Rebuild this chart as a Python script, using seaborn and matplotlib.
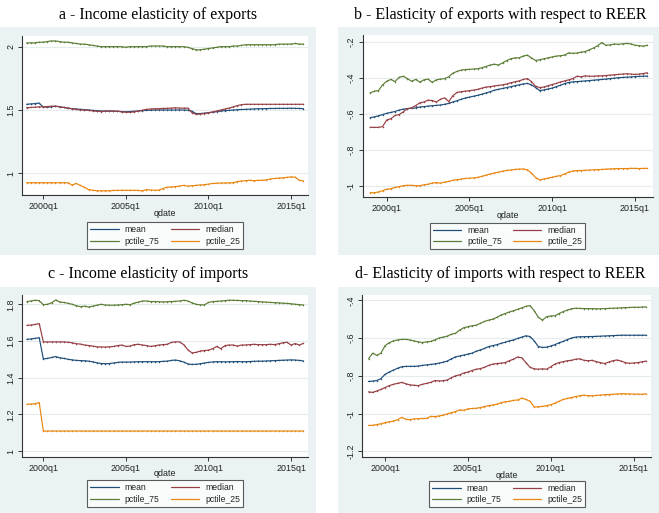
import numpy as np
import pandas as pd
import matplotlib
matplotlib.use("Agg")
import matplotlib.pyplot as plt
import seaborn as sns
from matplotlib.patches import Rectangle
from matplotlib.lines import Line2D

sns.set_theme(style="white")
plt.rcParams["font.family"] = ["Liberation Sans", "DejaVu Sans"]

# ---------------- data ----------------
quarters = pd.period_range("1999Q1", "2015Q4", freq="Q")
series_names = ["mean", "median", "pctile_75", "pctile_25"]
x_tick_labels = ["2000q1", "2005q1", "2010q1", "2015q1"]

# a - Income elasticity of exports
a_mean = [1.545, 1.548, 1.55, 1.555, 1.525, 1.522, 1.525, 1.53, 1.525, 1.52, 1.515, 1.51, 1.508, 1.505, 1.503, 1.5, 1.497,
          1.495, 1.492, 1.492, 1.492, 1.49, 1.49, 1.488, 1.486, 1.488, 1.49, 1.492, 1.495, 1.497, 1.498, 1.5, 1.5, 1.5,
          1.5, 1.5, 1.5, 1.5, 1.5, 1.498, 1.49, 1.472, 1.472, 1.475, 1.478, 1.482, 1.487, 1.492, 1.495, 1.497, 1.5,
          1.502, 1.504, 1.505, 1.507, 1.508, 1.51, 1.51, 1.511, 1.512, 1.512, 1.513, 1.513, 1.513, 1.514, 1.513, 1.512, 1.51]
a_median = [1.518, 1.52, 1.522, 1.525, 1.525, 1.527, 1.53, 1.53, 1.525, 1.52, 1.515, 1.51, 1.505, 1.5, 1.5, 1.497, 1.493,
            1.49, 1.488, 1.49, 1.492, 1.492, 1.49, 1.485, 1.483, 1.482, 1.485, 1.492, 1.498, 1.505, 1.508, 1.51, 1.51,
            1.512, 1.513, 1.515, 1.518, 1.515, 1.515, 1.515, 1.48, 1.466, 1.468, 1.472, 1.478, 1.485, 1.492, 1.5, 1.508,
            1.515, 1.525, 1.535, 1.542, 1.545, 1.545, 1.545, 1.545, 1.545, 1.545, 1.545, 1.545, 1.545, 1.545, 1.545,
            1.545, 1.545, 1.545, 1.545]
a_p75 = [2.03, 2.03, 2.03, 2.035, 2.035, 2.04, 2.045, 2.045, 2.04, 2.035, 2.035, 2.03, 2.025, 2.02, 2.02, 2.015, 2.01,
         2.005, 2.0, 2.0, 2.0, 2.0, 2.0, 2.0, 1.995, 2.0, 2.0, 2.0, 2.0, 2.0, 2.005, 2.005, 2.005, 2.005, 2.0, 2.0, 2.0,
         2.0, 2.0, 1.995, 1.985, 1.975, 1.975, 1.98, 1.985, 1.99, 1.995, 2.0, 2.0, 2.0, 2.005, 2.005, 2.01, 2.015, 2.015,
         2.015, 2.015, 2.015, 2.015, 2.015, 2.015, 2.02, 2.02, 2.02, 2.02, 2.025, 2.02, 2.02]
a_p25 = [0.926, 0.926, 0.926, 0.926, 0.926, 0.926, 0.926, 0.926, 0.926, 0.926, 0.926, 0.908, 0.92, 0.905, 0.89, 0.872,
         0.866, 0.863, 0.862, 0.863, 0.862, 0.865, 0.866, 0.866, 0.866, 0.866, 0.866, 0.865, 0.862, 0.872, 0.868, 0.866,
         0.868, 0.88, 0.89, 0.893, 0.895, 0.9, 0.905, 0.9, 0.902, 0.905, 0.908, 0.91, 0.915, 0.92, 0.922, 0.924, 0.924,
         0.925, 0.926, 0.935, 0.94, 0.942, 0.945, 0.942, 0.945, 0.945, 0.948, 0.955, 0.96, 0.962, 0.965, 0.968, 0.972,
         0.97, 0.945, 0.94]

# b - Elasticity of exports with respect to REER
b_mean = [-0.622, -0.618, -0.612, -0.605, -0.598, -0.593, -0.588, -0.58, -0.575, -0.572, -0.57, -0.568, -0.563, -0.561,
          -0.558, -0.556, -0.554, -0.552, -0.548, -0.543, -0.535, -0.528, -0.52, -0.513, -0.508, -0.503, -0.498, -0.492,
          -0.485, -0.478, -0.47, -0.465, -0.46, -0.455, -0.45, -0.445, -0.44, -0.435, -0.432, -0.44, -0.455, -0.472,
          -0.468, -0.463, -0.458, -0.45, -0.442, -0.433, -0.427, -0.423, -0.422, -0.42, -0.418, -0.416, -0.414, -0.412,
          -0.41, -0.408, -0.405, -0.403, -0.4, -0.399, -0.397, -0.396, -0.394, -0.393, -0.392, -0.391]
b_median = [-0.676, -0.676, -0.676, -0.672, -0.635, -0.628, -0.61, -0.605, -0.59, -0.572, -0.568, -0.555, -0.54, -0.535,
            -0.525, -0.527, -0.535, -0.52, -0.512, -0.533, -0.5, -0.482, -0.478, -0.475, -0.472, -0.469, -0.465,
            -0.458, -0.452, -0.45, -0.446, -0.443, -0.44, -0.435, -0.428, -0.423, -0.418, -0.41, -0.405, -0.422, -0.448,
            -0.455, -0.452, -0.445, -0.438, -0.432, -0.424, -0.418, -0.412, -0.405, -0.392, -0.395, -0.39, -0.392,
            -0.392, -0.39, -0.39, -0.388, -0.386, -0.384, -0.382, -0.38, -0.378, -0.38, -0.382, -0.38, -0.377, -0.373]
b_p75 = [-0.485, -0.475, -0.472, -0.44, -0.42, -0.41, -0.422, -0.398, -0.392, -0.405, -0.42, -0.41, -0.425, -0.412,
         -0.408, -0.426, -0.412, -0.408, -0.405, -0.395, -0.375, -0.365, -0.358, -0.355, -0.354, -0.352, -0.35, -0.345,
         -0.338, -0.33, -0.325, -0.33, -0.318, -0.305, -0.295, -0.29, -0.29, -0.28, -0.275, -0.29, -0.305, -0.3, -0.295,
         -0.29, -0.285, -0.28, -0.278, -0.275, -0.262, -0.265, -0.263, -0.258, -0.255, -0.245, -0.235, -0.222, -0.205,
         -0.22, -0.218, -0.213, -0.215, -0.212, -0.21, -0.212, -0.22, -0.222, -0.225, -0.22]
b_p25 = [-1.039, -1.039, -1.035, -1.028, -1.02, -1.017, -1.01, -1.005, -1.0, -0.998, -0.998, -1.0, -1.0, -0.995, -0.992,
         -0.985, -0.983, -0.986, -0.98, -0.976, -0.97, -0.967, -0.963, -0.96, -0.958, -0.957, -0.954, -0.948, -0.942,
         -0.935, -0.93, -0.925, -0.92, -0.915, -0.913, -0.91, -0.908, -0.907, -0.912, -0.93, -0.955, -0.968, -0.963,
         -0.958, -0.953, -0.948, -0.944, -0.935, -0.925, -0.918, -0.916, -0.916, -0.915, -0.913, -0.912, -0.911, -0.91,
         -0.908, -0.907, -0.906, -0.905, -0.905, -0.905, -0.904, -0.904, -0.905, -0.904, -0.904]

# c - Income elasticity of imports
c_mean = [1.609, 1.611, 1.614, 1.618, 1.502, 1.505, 1.51, 1.515, 1.508, 1.505, 1.5, 1.497, 1.494, 1.493, 1.492, 1.49,
          1.486, 1.481, 1.477, 1.476, 1.477, 1.48, 1.483, 1.485, 1.485, 1.485, 1.486, 1.487, 1.487, 1.487, 1.487, 1.487,
          1.487, 1.489, 1.49, 1.494, 1.496, 1.492, 1.485, 1.475, 1.472, 1.473, 1.476, 1.48, 1.483, 1.486, 1.487, 1.487,
          1.486, 1.487, 1.487, 1.488, 1.487, 1.487, 1.488, 1.489, 1.49, 1.49, 1.491, 1.492, 1.493, 1.494, 1.495, 1.496,
          1.497, 1.496, 1.494, 1.491]
c_median = [1.685, 1.687, 1.69, 1.695, 1.595, 1.595, 1.595, 1.595, 1.595, 1.595, 1.593, 1.59, 1.585, 1.583, 1.578, 1.575,
            1.572, 1.568, 1.567, 1.567, 1.568, 1.57, 1.575, 1.578, 1.57, 1.572, 1.58, 1.582, 1.578, 1.575, 1.57, 1.574,
            1.578, 1.58, 1.582, 1.592, 1.595, 1.595, 1.58, 1.552, 1.535, 1.538, 1.545, 1.548, 1.55, 1.558, 1.57, 1.558,
            1.575, 1.578, 1.578, 1.572, 1.578, 1.578, 1.58, 1.582, 1.58, 1.58, 1.58, 1.582, 1.58, 1.585, 1.59, 1.593,
            1.578, 1.586, 1.578, 1.587]
c_p75 = [1.815, 1.818, 1.822, 1.82, 1.798, 1.8, 1.808, 1.824, 1.812, 1.81, 1.805, 1.8, 1.792, 1.787, 1.79, 1.785, 1.79,
         1.795, 1.8, 1.796, 1.795, 1.795, 1.796, 1.798, 1.8, 1.798, 1.806, 1.812, 1.818, 1.818, 1.815, 1.815, 1.814,
         1.813, 1.814, 1.815, 1.816, 1.818, 1.822, 1.818, 1.808, 1.8, 1.797, 1.797, 1.81, 1.815, 1.816, 1.818, 1.82,
         1.822, 1.822, 1.821, 1.82, 1.82, 1.818, 1.816, 1.815, 1.813, 1.812, 1.81, 1.809, 1.808, 1.806, 1.805, 1.803,
         1.8, 1.798, 1.796]
c_p25 = [1.255, 1.256, 1.258, 1.264] + [1.109] * 64

# d - Elasticity of imports with respect to REER
d_mean = [-0.83, -0.828, -0.825, -0.815, -0.792, -0.78, -0.77, -0.76, -0.752, -0.75, -0.75, -0.75, -0.748, -0.745,
          -0.742, -0.74, -0.737, -0.733, -0.728, -0.722, -0.71, -0.7, -0.695, -0.69, -0.685, -0.68, -0.67, -0.663,
          -0.655, -0.645, -0.64, -0.635, -0.628, -0.622, -0.615, -0.61, -0.602, -0.595, -0.588, -0.592, -0.615, -0.645,
          -0.65, -0.648, -0.642, -0.635, -0.625, -0.618, -0.608, -0.6, -0.595, -0.593, -0.593, -0.592, -0.592, -0.591,
          -0.59, -0.589, -0.588, -0.587, -0.586, -0.585, -0.585, -0.585, -0.585, -0.585, -0.585, -0.585]
d_median = [-0.885, -0.888, -0.88, -0.872, -0.862, -0.852, -0.845, -0.84, -0.835, -0.842, -0.848, -0.85, -0.852, -0.845,
            -0.84, -0.835, -0.825, -0.827, -0.826, -0.822, -0.81, -0.8, -0.795, -0.785, -0.78, -0.772, -0.765, -0.762,
            -0.755, -0.745, -0.738, -0.735, -0.733, -0.73, -0.72, -0.712, -0.7, -0.705, -0.73, -0.755, -0.763, -0.765,
            -0.763, -0.765, -0.752, -0.738, -0.73, -0.725, -0.72, -0.718, -0.712, -0.71, -0.718, -0.72, -0.718, -0.725,
            -0.73, -0.735, -0.727, -0.72, -0.716, -0.722, -0.73, -0.734, -0.732, -0.73, -0.726, -0.722]
d_p75 = [-0.71, -0.68, -0.692, -0.68, -0.64, -0.625, -0.615, -0.61, -0.607, -0.607, -0.61, -0.615, -0.62, -0.624, -0.62,
         -0.618, -0.61, -0.6, -0.595, -0.59, -0.58, -0.575, -0.558, -0.545, -0.54, -0.535, -0.532, -0.522, -0.512,
         -0.505, -0.5, -0.49, -0.478, -0.47, -0.462, -0.455, -0.448, -0.44, -0.432, -0.428, -0.455, -0.49, -0.505,
         -0.487, -0.483, -0.482, -0.47, -0.46, -0.452, -0.445, -0.442, -0.443, -0.444, -0.444, -0.444, -0.445, -0.445,
         -0.444, -0.443, -0.442, -0.441, -0.44, -0.439, -0.438, -0.437, -0.437, -0.436, -0.435]
d_p25 = [-1.063, -1.062, -1.058, -1.054, -1.048, -1.043, -1.04, -1.033, -1.02, -1.03, -1.032, -1.028, -1.027, -1.026,
         -1.026, -1.015, -1.016, -1.013, -1.008, -1.002, -0.995, -0.99, -0.98, -0.983, -0.975, -0.973, -0.972, -0.968,
         -0.963, -0.958, -0.955, -0.95, -0.942, -0.938, -0.935, -0.93, -0.928, -0.918, -0.925, -0.935, -0.965, -0.964,
         -0.962, -0.958, -0.953, -0.945, -0.935, -0.925, -0.92, -0.915, -0.91, -0.905, -0.903, -0.905, -0.906, -0.904,
         -0.902, -0.9, -0.899, -0.898, -0.896, -0.895, -0.895, -0.896, -0.897, -0.897, -0.898, -0.895]

titles = ["a - Income elasticity of exports", "b - Elasticity of exports with respect to REER",
          "c - Income elasticity of imports", "d- Elasticity of imports with respect to REER"]
a_yticks, a_ylabels = [1, 1.5, 2], ["1", "1.5", "2"]
b_yticks, b_ylabels = [-1, -0.8, -0.6, -0.4, -0.2], ["-1", "-.8", "-.6", "-.4", "-.2"]
c_yticks, c_ylabels = [1, 1.2, 1.4, 1.6, 1.8], ["1", "1.2", "1.4", "1.6", "1.8"]
d_yticks, d_ylabels = [-1.2, -1, -0.8, -0.6, -0.4], ["-1.2", "-1", "-.8", "-.6", "-.4"]

# ---------------- layout / style ----------------
W, H = 659, 513
colors = {"mean": "#1F4E79", "median": "#963F45", "pctile_75": "#5C7D36", "pctile_25": "#E8860F"}
region_color = "#EAF2F3"
grid_color = "#E4ECEE"

t_index = np.arange(len(quarters))
tick_pos = [list(quarters.strftime("%Y")).index(lbl[:4]) for lbl in x_tick_labels]

def fx(px):
    return px / W

def fy(py):
    return 1 - py / H

panels = [
    dict(data=[a_mean, a_median, a_p75, a_p25], yt=a_yticks, yl=a_ylabels, ylim=(0.829, 2.084), xlim=(-1.1, 68.1),
         ax=(22, 36, 308, 195), reg=(0, 27, 316, 255), title_xy=(158, 15), qdate_y=213, leg_xy=(165, 235.5)),
    dict(data=[b_mean, b_median, b_p75, b_p25], yt=b_yticks, yl=b_ylabels, ylim=(-1.063, -0.163), xlim=(-1.8, 68.3),
         ax=(362.7, 35, 652.7, 197), reg=(338, 27, 659, 255), title_xy=(500, 15), qdate_y=216, leg_xy=(507.5, 236)),
    dict(data=[c_mean, c_median, c_p75, c_p25], yt=c_yticks, yl=c_ylabels, ylim=(0.969, 1.849), xlim=(-1.17, 68.1),
         ax=(22, 295.3, 308, 456.7), reg=(0, 287, 316, 513), title_xy=(148, 274.5), qdate_y=474, leg_xy=(165, 493.5)),
    dict(data=[d_mean, d_median, d_p75, d_p25], yt=d_yticks, yl=d_ylabels, ylim=(-1.230, -0.372), xlim=(-1.5, 68.2),
         ax=(362.3, 295, 651, 457), reg=(338, 287, 659, 513), title_xy=(500, 274.5), qdate_y=476, leg_xy=(507, 494)),
]

fig = plt.figure(figsize=(W / 100, H / 100), dpi=100)
fig.patch.set_facecolor("white")

for p, title in zip(panels, titles):
    x0, y0, x1, y1 = p["reg"]
    fig.patches.append(Rectangle((fx(x0), fy(y1)), fx(x1 - x0), (y1 - y0) / H, transform=fig.transFigure,
                                 facecolor=region_color, edgecolor="none", zorder=-10))
    fig.text(fx(p["title_xy"][0]), fy(p["title_xy"][1]), title, ha="center", va="center",
             fontsize=11.5, family=["Liberation Serif", "DejaVu Serif"], color="black")

    ax0, ay0, ax1, ay1 = p["ax"]
    ax = fig.add_axes([fx(ax0), fy(ay1), fx(ax1 - ax0), (ay1 - ay0) / H])
    ax.set_zorder(5)
    ax.set_facecolor("white")

    df = pd.DataFrame({
        "t": np.tile(t_index, 4),
        "value": np.concatenate([np.asarray(s, dtype=float) for s in p["data"]]),
        "series": np.repeat(series_names, len(t_index)),
    })
    sns.lineplot(data=df, x="t", y="value", hue="series", hue_order=series_names, palette=colors, ax=ax,
                 legend=False, linewidth=0.85, marker="o", markersize=1.1, markeredgewidth=0, zorder=3)

    ax.set_xlim(*p["xlim"])
    ax.set_ylim(*p["ylim"])
    ax.set_xticks(tick_pos)
    ax.set_xticklabels(x_tick_labels)
    ax.set_yticks(p["yt"])
    ax.set_yticklabels(p["yl"], rotation=90, va="center")
    for yv in p["yt"]:
        ax.axhline(yv, color=grid_color, lw=0.8, zorder=1)
    ax.set_xlabel("")
    ax.set_ylabel("")
    for side in ["top", "right"]:
        ax.spines[side].set_visible(False)
    for side in ["left", "bottom"]:
        ax.spines[side].set_color("#333333")
        ax.spines[side].set_linewidth(0.8)
    ax.tick_params(axis="both", which="major", direction="out", length=3, width=0.7, color="#333333",
                   labelsize=6.4, pad=2, left=True, bottom=True, labelcolor="#222222")

    fig.text((fx(ax0) + fx(ax1)) / 2, fy(p["qdate_y"]), "qdate", ha="center", va="center", fontsize=6.4,
             color="#222222")

    handles = [Line2D([], [], color=colors[n], lw=0.9) for n in ["mean", "pctile_75", "median", "pctile_25"]]
    labels = ["mean", "pctile_75", "median", "pctile_25"]
    leg = ax.legend(handles, labels, ncol=2, loc="center", bbox_to_anchor=(fx(p["leg_xy"][0]), fy(p["leg_xy"][1])),
                    bbox_transform=fig.transFigure, fontsize=6.2, frameon=True, fancybox=False, handlelength=3.3,
                    handletextpad=0.7, columnspacing=1.3, labelspacing=0.25, borderpad=0.35, labelcolor="#222222")
    leg.get_frame().set_edgecolor("#333333")
    leg.get_frame().set_linewidth(0.8)
    leg.get_frame().set_facecolor("white")

fig.savefig("out.png", dpi=100, facecolor="white")
